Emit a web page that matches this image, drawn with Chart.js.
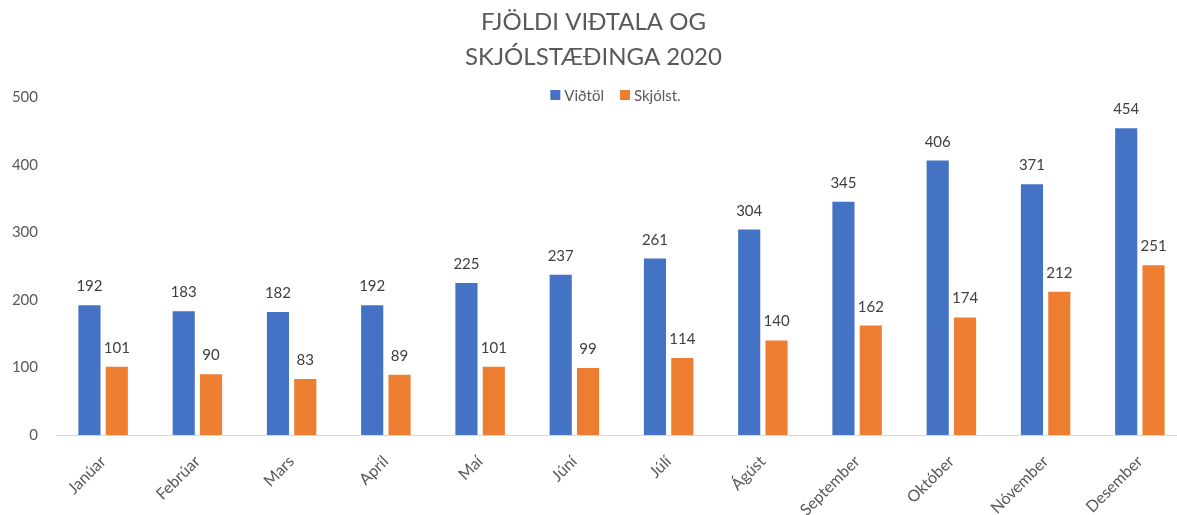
<!DOCTYPE html>
<html>
<head>
<meta charset="utf-8">
<script src="https://cdn.jsdelivr.net/npm/chart.js@4"></script>
<style>
  html, body { margin: 0; padding: 0; background: #fff; overflow: hidden; }
  canvas { display: block; }
</style>
</head>
<body>
<canvas id="chart" width="1187" height="515"></canvas>
<script>
const months = ["Janúar", "Febrúar", "Mars", "Apríl", "Maí", "Júní", "Júlí", "Ágúst", "September", "Október", "Nóvember", "Desember"];
const vidtol = [192, 183, 182, 192, 225, 237, 261, 304, 345, 406, 371, 454];
const skjolst = [101, 90, 83, 89, 101, 99, 114, 140, 162, 174, 212, 251];
const seriesNames = ["Viðtöl", "Skjólst."];
const titleLines = ["FJÖLDI VIÐTALA OG", "SKJÓLSTÆÐINGA 2020"];

const blue = '#4472C4';
const orange = '#ED7D31';
const textGray = '#595959';

// value labels above each bar
const barLabels = {
    id: 'barLabels',
    afterDatasetsDraw(chart) {
        const ctx = chart.ctx;
        ctx.save();
        ctx.font = '15px Lato';
        ctx.fillStyle = '#404040';
        ctx.textAlign = 'center';
        ctx.textBaseline = 'alphabetic';
        chart.data.datasets.forEach((ds, i) => {
            chart.getDatasetMeta(i).data.forEach((bar, j) => {
                ctx.fillText(ds.data[j], bar.x, bar.y - 14);
            });
        });
        ctx.restore();
    }
};

// legend sits right above the plot, overlapping the top tick row
const topLegend = {
    id: 'topLegend',
    afterDraw(chart) {
        const ctx = chart.ctx;
        const area = chart.chartArea;
        ctx.save();
        ctx.font = '15px Lato';
        ctx.textBaseline = 'middle';
        const box = 10, gap = 4, itemGap = 16;
        const colors = chart.data.datasets.map(d => d.backgroundColor);
        const widths = seriesNames.map(n => ctx.measureText(n).width);
        let total = 0;
        widths.forEach((w, i) => { total += box + gap + w + (i ? itemGap : 0); });
        let x = (area.left + area.right) / 2 - 6 - total / 2;
        const y = 95;
        seriesNames.forEach((n, i) => {
            ctx.fillStyle = colors[i];
            ctx.fillRect(x, y - box / 2, box, box);
            ctx.fillStyle = textGray;
            ctx.fillText(n, x + box + gap, y + 1);
            x += box + gap + widths[i] + itemGap;
        });
        ctx.restore();
    }
};

const data = {
    labels: months,
    datasets: [{
        label: seriesNames[0],
        data: vidtol,
        backgroundColor: blue,
        categoryPercentage: 0.58,
        barPercentage: 0.81
    }, {
        label: seriesNames[1],
        data: skjolst,
        backgroundColor: orange,
        categoryPercentage: 0.58,
        barPercentage: 0.81
    }]
};

const config = {
    type: 'bar',
    data: data,
    options: {
        responsive: false,
        animation: false,
        layout: { padding: { left: 0, right: 0, top: 0, bottom: 0 } },
        plugins: {
            legend: { display: false },
            tooltip: { enabled: false },
            title: {
                display: true,
                text: titleLines,
                color: textGray,
                font: { family: 'Lato', size: 24, weight: 'normal', lineHeight: 1.46 },
                padding: { top: 5, bottom: 22 }
            }
        },
        scales: {
            x: {
                grid: { display: false, drawTicks: false },
                border: { display: true, color: '#d9d9d9', width: 1 },
                ticks: {
                    color: textGray,
                    font: { family: 'Lato', size: 16 },
                    maxRotation: 45,
                    minRotation: 45,
                    padding: 17
                },
                afterFit(scale) { scale.height = 80; }
            },
            y: {
                min: 0,
                max: 500,
                grid: { display: false, drawTicks: false },
                border: { display: false },
                ticks: {
                    stepSize: 100,
                    color: textGray,
                    font: { family: 'Lato', size: 15 },
                    padding: 18
                },
                afterFit(scale) { scale.width = 56; }
            }
        }
    },
    plugins: [barLabels, topLegend]
};

const myChart = new Chart(document.getElementById('chart'), config);
</script>
</body>
</html>
